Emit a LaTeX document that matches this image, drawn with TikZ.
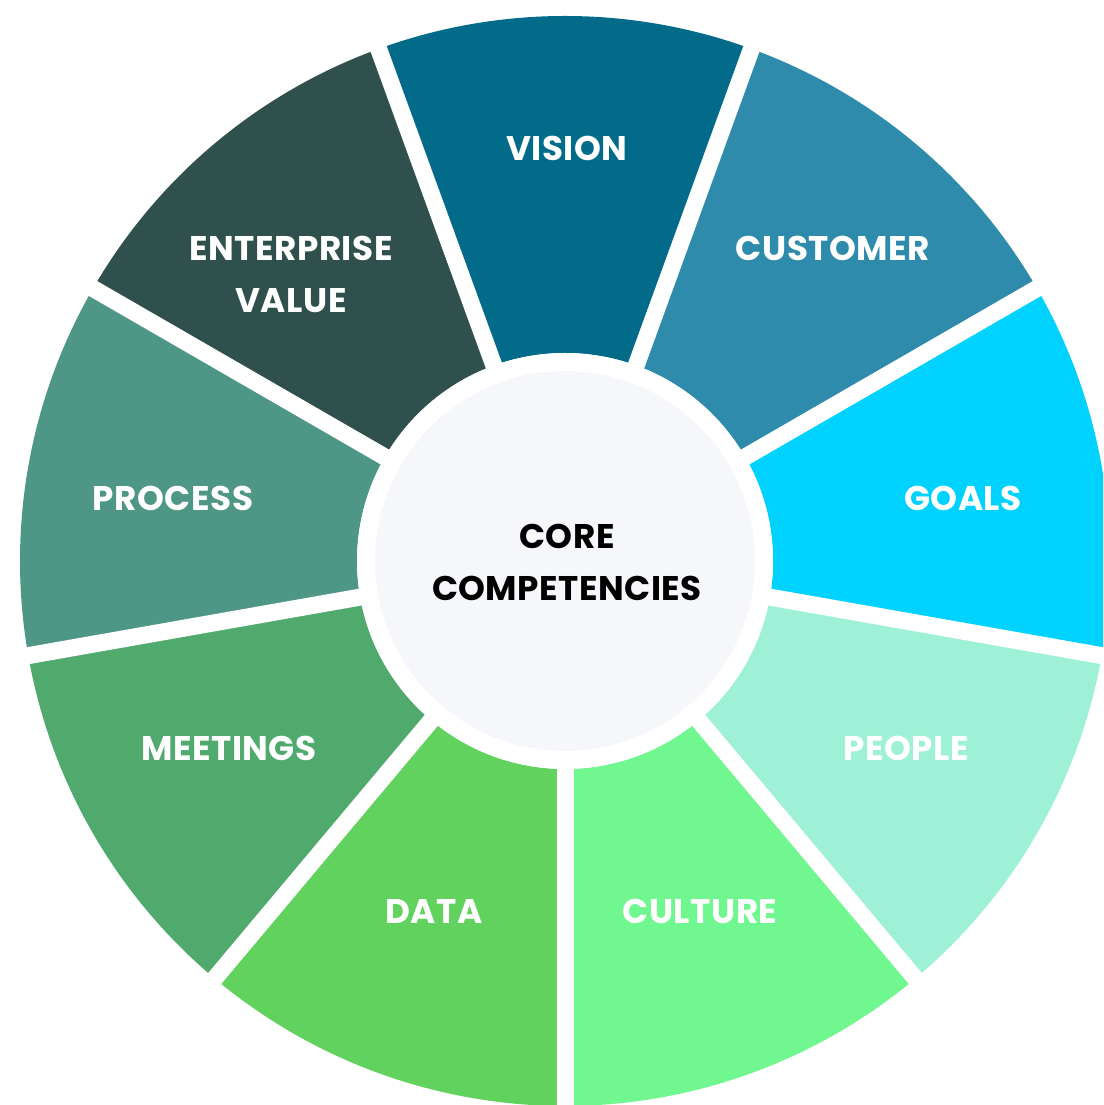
\documentclass[tikz,border=0pt]{standalone}
\usepackage{fontspec}
\newfontfamily\wheelfont{Poppins}[LetterSpace=1.5]
\definecolor{visioncol}{HTML}{026B8A}
\definecolor{customercol}{HTML}{2F8BAB}
\definecolor{goalscol}{HTML}{00D2FF}
\definecolor{peoplecol}{HTML}{9EF1D6}
\definecolor{culturecol}{HTML}{70F78F}
\definecolor{datacol}{HTML}{62D25E}
\definecolor{meetingscol}{HTML}{50AA6E}
\definecolor{processcol}{HTML}{4E9686}
\definecolor{enterprisecol}{HTML}{2F504C}
\definecolor{corecol}{HTML}{F5F7FB}
\begin{document}
\begin{tikzpicture}
      [
      x=1pt, y=1pt,
      segtext/.style={text=white, inner sep=0pt, align=center,
        font=\wheelfont\bfseries\fontsize{34.2}{52}\selectfont},
      coretext/.style={segtext, text=black}
      ]
      \useasboundingbox (0,0) rectangle (1103,1105);
      \clip (0,0) rectangle (1103,1105);
      \coordinate (o) at (565,544);
      % the nine segments
      \foreach \a/\col in {70/visioncol, 30/customercol, -10/goalscol, -50/peoplecol,
        -90/culturecol, -130/datacol, -170/meetingscol, -210/processcol, 110/enterprisecol}
        \fill [\col] ([shift={(o)}]\a:545) arc [start angle=\a, end angle=\a+40, radius=545]
          -- ([shift={(o)}]\a+40:208) arc [start angle=\a+40, end angle=\a, radius=208] -- cycle;
      % gaps between segments
      \foreach \a in {30,70,...,350}
        \draw [white, line width=17pt] (o) -- ([shift={(o)}]\a:600);
      \fill [white] (o) circle [radius=208];
      \fill [corecol] (o) circle [radius=190];
      \node (core) at (567,543) [coretext] {CORE\\COMPETENCIES};
      \node (vision) at (567,957) [segtext] {VISION};
      \node (customer) at (833,857) [segtext] {CUSTOMER};
      \node (goals) at (963,607) [segtext] {GOALS};
      \node (people) at (906,357) [segtext] {PEOPLE};
      \node (culture) at (700,194) [segtext] {CULTURE};
      \node (data) at (434,194) [segtext] {DATA};
      \node (meetings) at (229,357) [segtext] {MEETINGS};
      \node (process) at (173,607) [segtext] {PROCESS};
      \node (enterprise) at (291,831) [segtext] {ENTERPRISE\\VALUE};
    \end{tikzpicture}
\end{document}
